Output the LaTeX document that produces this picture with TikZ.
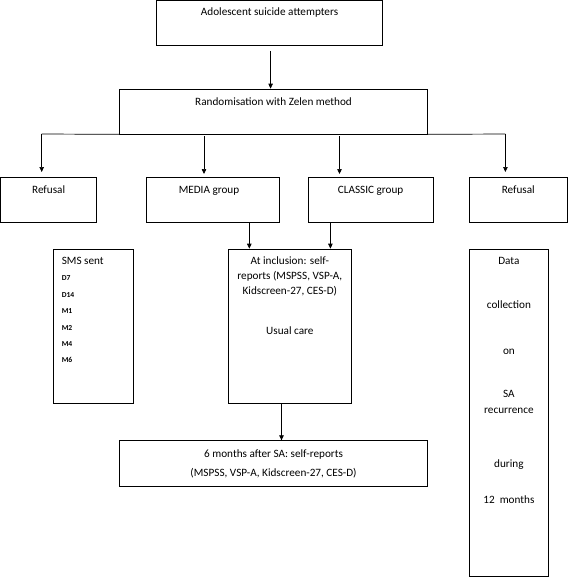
\documentclass[tikz,border=0pt]{standalone}
\usepackage{fontspec}
\setmainfont{Carlito}
\usetikzlibrary{arrows.meta}
\begin{document}
\begin{tikzpicture}[x=1pt,y=-1pt,
  box/.style={draw=black,line width=0.7pt,inner sep=0pt,fill=none},
  txt/.style={inner sep=0pt,anchor=base,font=\fontsize{11.2}{13}\selectfont},
  smalltxt/.style={inner sep=0pt,anchor=base west,font=\fontsize{7.6}{9}\selectfont\bfseries},
  arr/.style={line width=0.7pt,-{Triangle[length=5pt,width=4.5pt]}},
  ln/.style={line width=0.7pt}]
\useasboundingbox (0,0) rectangle (568,578);
% boxes
\node[box,minimum width=226.1pt,minimum height=44.5pt] (top) at (269.55,22.75) {};
\node[box,minimum width=307.9pt,minimum height=45pt] (rand) at (273.55,111.5) {};
\node[box,minimum width=96.2pt,minimum height=45pt] (refl) at (48.6,199.5) {};
\node[box,minimum width=133pt,minimum height=45pt] (media) at (213.2,199.5) {};
\node[box,minimum width=124.7pt,minimum height=45pt] (classic) at (370.65,199.5) {};
\node[box,minimum width=97.5pt,minimum height=45pt] (refr) at (518.25,199.5) {};
\node[box,minimum width=79.7pt,minimum height=154.3pt] (sms) at (93.45,326.15) {};
\node[box,minimum width=123.1pt,minimum height=154.3pt] (incl) at (289.85,326.15) {};
\node[box,minimum width=78.6pt,minimum height=327pt] (data) at (508.9,412.5) {};
\node[box,minimum width=307.9pt,minimum height=45.3pt] (six) at (273.55,463.35) {};
% texts
\node[txt] (ttop) at (269.55,16) {Adolescent suicide attempters};
\node[txt] (trand) at (273.55,105) {Randomisation with Zelen method};
\node[txt] (trefl) at (48.6,193) {Refusal};
\node[txt] (tmedia) at (209,193) {MEDIA group};
\node[txt] (tclassic) at (370.65,193) {CLASSIC group};
\node[txt] (trefr) at (518.25,193) {Refusal};
\node[txt,anchor=base west] (tsms) at (61.6,264) {SMS sent};
\node[smalltxt] (d7) at (61.6,280.5) {D7};
\node[smalltxt] (d14) at (61.6,297.8) {D14};
\node[smalltxt] (m1) at (61.6,313.8) {M1};
\node[smalltxt] (m2) at (61.6,330.1) {M2};
\node[smalltxt] (m4) at (61.6,346.5) {M4};
\node[smalltxt] (m6) at (61.6,362.8) {M6};
\node[txt] (ti1) at (289.85,264) {At inclusion: self-};
\node[txt] (ti2) at (289.85,279) {reports (MSPSS, VSP-A,};
\node[txt] (ti3) at (289.85,294) {Kidscreen-27, CES-D)};
\node[txt] (ti4) at (289.85,334) {Usual care};
\node[txt] (td1) at (508.9,264) {Data};
\node[txt] (td2) at (508.9,308) {collection};
\node[txt] (td3) at (508.9,354) {on};
\node[txt] (td4) at (508.9,397.3) {SA};
\node[txt] (td5) at (508.9,413.3) {recurrence};
\node[txt] (td6) at (508.9,467.3) {during};
\node[txt] (td7) at (508.9,503) {12\ \ months};
\node[txt] (ts1) at (273.55,457.3) {6 months after SA: self-reports};
\node[txt] (ts2) at (273.55,476.7) {(MSPSS, VSP-A, Kidscreen-27, CES-D)};
% connectors
\coordinate (a0) at (270.6,51);
\draw[arr] (a0) -- (a0 |- rand.north);
\coordinate (hl) at (41.7,134);
\coordinate (hr) at (505.4,134);
\draw[ln] (hl) -- (rand.south west);
\draw[ln] (rand.south east) -- (hr);
\draw[arr] (hl) -- ++(0,38);
\draw[arr] (hr) -- ++(0,38);
\coordinate (bm) at (204,136);
\coordinate (bc) at (339.5,136);
\draw[arr] (bm) -- ++(0,38);
\draw[arr] (bc) -- ++(0,38);
\coordinate (mm) at (249.3,0);
\coordinate (cc) at (330.4,0);
\draw[arr] (mm |- media.south) -- (mm |- incl.north);
\draw[arr] (cc |- classic.south) -- (cc |- incl.north);
\coordinate (ii) at (281.5,0);
\draw[arr] (ii |- incl.south) -- (ii |- six.north);
\end{tikzpicture}
\end{document}
